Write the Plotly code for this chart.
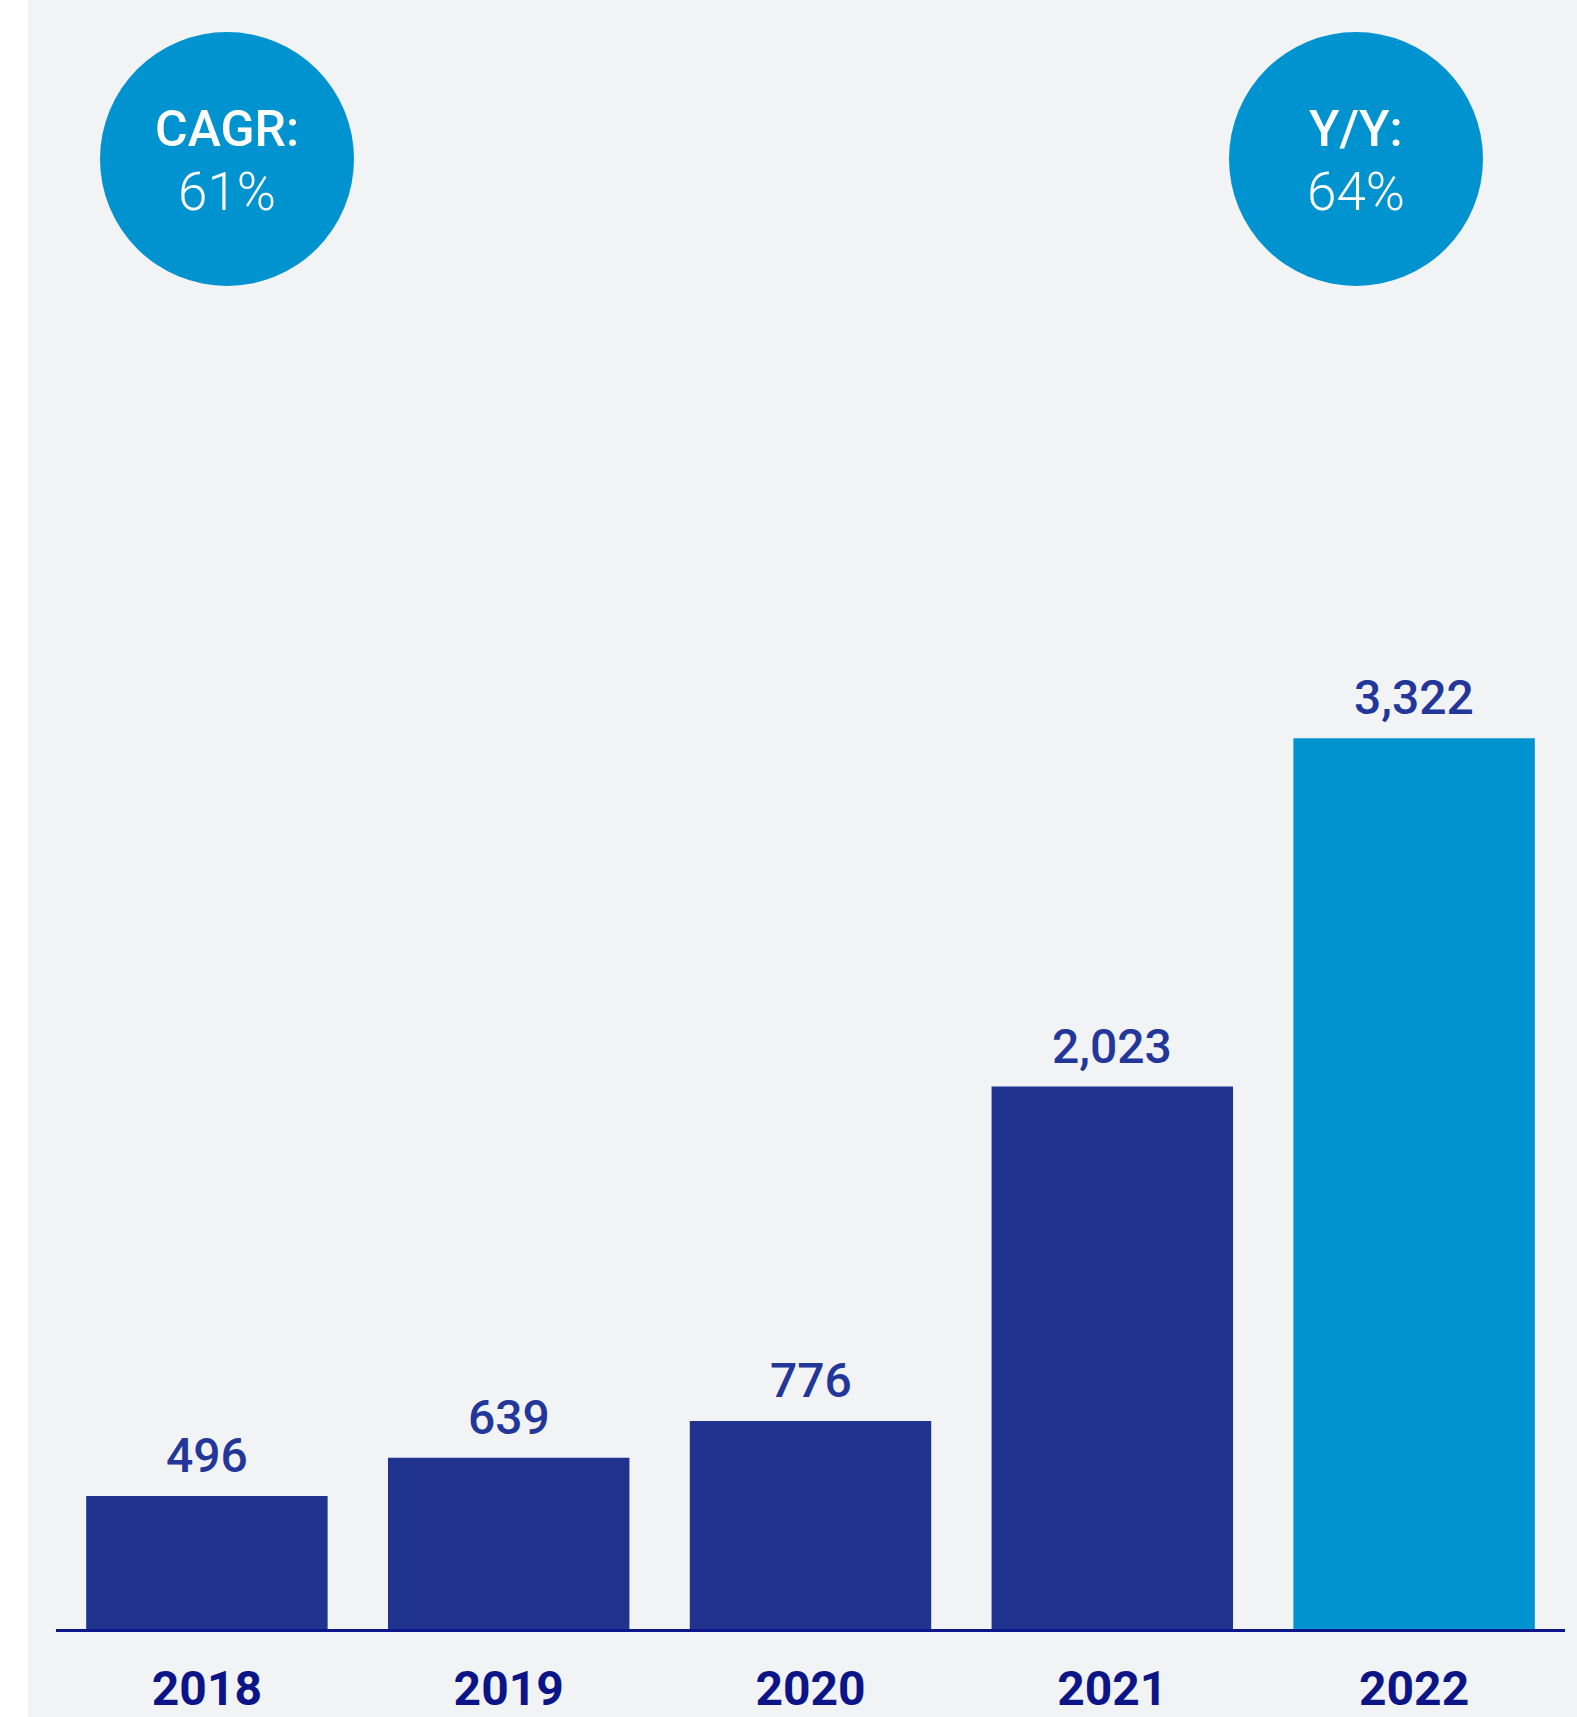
import plotly.graph_objects as go

# ---- data ----
years = ["2018", "2019", "2020", "2021", "2022"]
values = [496, 639, 776, 2023, 3322]
value_labels = ["496", "639", "776", "2,023", "3,322"]
bar_colors = ["#1F338F", "#1F338F", "#1F338F", "#1F338F", "#0093D0"]
badge_titles = ["CAGR:", "Y/Y:"]
badge_values = ["61%", "64%"]

# ---- layout constants (pixels) ----
W, H = 1577, 1717
L, R, T, B = 56, 12, 20, 88
PW, PH = W - L - R, H - T - B
BG = "#F2F3F5"
NAVY_TXT = "#23379A"
AXIS_NAVY = "#0D168A"
CIRCLE = "#0093D0"


def px_x(px):
    return (px - L) / PW


def px_y(py):
    return (H - B - py) / PH


fig = go.Figure()
fig.add_trace(go.Bar(
    x=years, y=values, marker=dict(color=bar_colors, line=dict(width=0)),
    hoverinfo="skip", showlegend=False,
))

annotations = []
for i, (v, lab) in enumerate(zip(values, value_labels)):
    annotations.append(dict(
        x=i, y=v, xref="x", yref="y", text=lab, showarrow=False,
        xanchor="center", yanchor="bottom", yshift=10,
        font=dict(family="Roboto", size=48, color=NAVY_TXT, weight=500),
    ))

shapes = [
    # white strip on the left edge
    dict(type="rect", xref="paper", yref="paper",
         x0=px_x(0), x1=px_x(28), y0=px_y(H), y1=px_y(0),
         fillcolor="white", line=dict(width=0), layer="above"),
]

circle_centers = [(227, 159), (1356, 159)]
radius = 127
for (cx, cy), title, val in zip(circle_centers, badge_titles, badge_values):
    shapes.append(dict(type="circle", xref="paper", yref="paper",
                       x0=px_x(cx - radius), x1=px_x(cx + radius),
                       y0=px_y(cy + radius), y1=px_y(cy - radius),
                       fillcolor=CIRCLE, line=dict(width=0), layer="above"))
    annotations.append(dict(x=px_x(cx), y=px_y(cy - 30), xref="paper", yref="paper",
                            text=title, showarrow=False, xanchor="center", yanchor="middle",
                            font=dict(family="Roboto", size=50, color="white", weight=500)))
    annotations.append(dict(x=px_x(cx), y=px_y(cy + 33), xref="paper", yref="paper",
                            text=val, showarrow=False, xanchor="center", yanchor="middle",
                            font=dict(family="Roboto", size=53, color="white", weight=300)))

fig.update_layout(
    width=W, height=H, autosize=False,
    margin=dict(l=L, r=R, t=T, b=B, pad=0, autoexpand=False),
    paper_bgcolor=BG, plot_bgcolor=BG,
    bargap=0.2,
    showlegend=False,
    annotations=annotations,
    shapes=shapes,
    xaxis=dict(
        type="category", range=[-0.5, 4.5], showgrid=False, zeroline=False,
        showline=True, linecolor=AXIS_NAVY, linewidth=3, ticks="",
        tickfont=dict(family="Roboto", size=48, color="#0B1587", weight=700),
        ticklabelstandoff=15, automargin=False,
    ),
    yaxis=dict(range=[0, 6000], visible=False, showgrid=False, zeroline=False,
               automargin=False),
)

fig.write_html(
    "out.html",
    config={"displayModeBar": False},
    post_script="document.body.style.margin='0';document.body.style.overflow='hidden';",
)
